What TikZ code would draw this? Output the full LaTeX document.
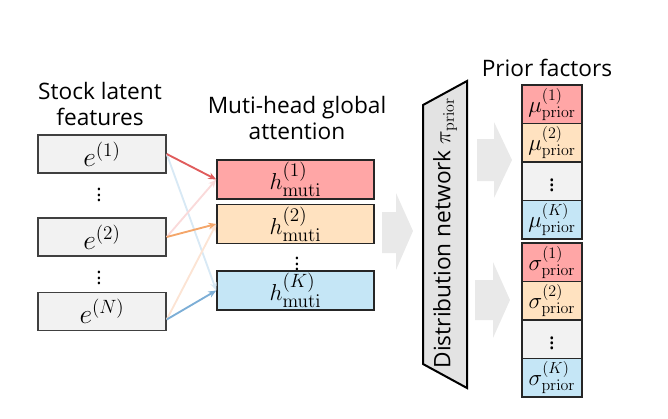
\documentclass[tikz,border=0pt]{standalone}
\usepackage[no-math]{fontspec}
\setmainfont{Open Sans}
\usetikzlibrary{positioning,arrows.meta}

\definecolor{headred}{RGB}{255,166,166}
\definecolor{headorange}{RGB}{255,226,192}
\definecolor{headblue}{RGB}{197,230,246}
\definecolor{boxgray}{RGB}{242,242,242}
\definecolor{linkred}{RGB}{224,92,92}
\definecolor{linkorange}{RGB}{244,166,106}
\definecolor{linkblue}{RGB}{124,174,214}
\definecolor{palered}{RGB}{250,218,218}
\definecolor{paleorange}{RGB}{252,228,212}
\definecolor{paleblue}{RGB}{216,233,245}

\begin{document}
\begin{tikzpicture}[x=0.75pt, y=-0.75pt, >={Stealth[length=6pt,width=5pt]},
    title/.style={align=center, font=\fontsize{17}{19}\selectfont},
    ebox/.style={draw=black!75, fill=boxgray, line width=1.1pt, minimum width=96pt, minimum height=28.5pt, inner sep=0pt, font=\fontsize{22}{24}\selectfont},
    hbox/.style={draw=black!85, line width=1.1pt, minimum width=117.75pt, minimum height=29.25pt, inner sep=0pt, font=\fontsize{19}{21}\selectfont},
    pbox/.style={draw=black!85, line width=1.1pt, minimum width=45pt, minimum height=28.9pt, inner sep=0pt, outer sep=0pt, font=\fontsize{17}{19}\selectfont},
    vdotsnode/.style={inner sep=0pt, font=\fontsize{15}{17}\selectfont},
    link/.style={->, line width=1.4pt},
    flow/.style={fill=gray!17}]

\useasboundingbox (0,0) rectangle (668,418);

% stock features
\node[title] (stocktitle) at (100,104) {Stock latent\\features};
\node[ebox] (e1) at (102,154) {$e^{(1)}$};
\node[ebox] (e2) at (102,237) {$e^{(2)}$};
\node[ebox] (eN) at (102,311.5) {$e^{(N)}$};
\node[vdotsnode] (dots1) at (99,191) {$\vdots$};
\node[vdotsnode] (dots2) at (99,274) {$\vdots$};

% attention heads
\node[title] (attntitle) at (297,118) {Muti-head global\\attention};
\node[hbox, fill=headred] (h1) at (295.5,179.5) {$h^{(1)}_{\mathrm{muti}}$};
\node[hbox, fill=headorange, below=3pt of h1] (h2) {$h^{(2)}_{\mathrm{muti}}$};
\node[vdotsnode] (dots3) at (297,260) {$\vdots$};
\node[hbox, fill=headblue] (hK) at (295.5,290.5) {$h^{(K)}_{\mathrm{muti}}$};

\draw[link, paleblue] (e1.east) -- (hK.west);
\draw[link, palered] (e2.east) -- (h1.west);
\draw[link, paleorange] ([yshift=-6pt]eN.east) -- (h2.west);
\draw[link, linkred] (e1.east) -- (h1.west);
\draw[link, linkorange] (e2.east) -- (h2.west);
\draw[link, linkblue] ([yshift=-6pt]eN.east) -- (hK.west);

% distribution network
\fill[flow] (382,212) -- (396,212) -- (396,193) -- (413,231) -- (396,270) -- (396,253) -- (382,253) -- cycle;
\draw[fill=gray!22, line width=1.5pt] (423,105) -- (467,81) -- (467,388) -- (423,364) -- cycle;
\node[title, rotate=90] (dist) at (445,233) {Distribution network $\pi_{\mathrm{prior}}$};
\fill[flow] (477,139) -- (494,139) -- (494,122) -- (512,160) -- (494,198) -- (494,181) -- (477,181) -- cycle;
\fill[flow] (475,280) -- (493,280) -- (493,262) -- (510,300) -- (493,338) -- (493,320) -- (475,320) -- cycle;

% prior factors
\node[title] (priortitle) at (547,68) {Prior factors};
\node[pbox, fill=headred] (mu1) at (552,104.25) {$\mu^{(1)}_{\mathrm{prior}}$};
\node[pbox, fill=headorange, below=0pt of mu1] (mu2) {$\mu^{(2)}_{\mathrm{prior}}$};
\node[pbox, fill=boxgray, below=0pt of mu2] (mudots) {$\vdots$};
\node[pbox, fill=headblue, below=0pt of mudots] (muK) {$\mu^{(K)}_{\mathrm{prior}}$};
\node[pbox, fill=headred] (sigma1) at (552,262.25) {$\sigma^{(1)}_{\mathrm{prior}}$};
\node[pbox, fill=headorange, below=0pt of sigma1] (sigma2) {$\sigma^{(2)}_{\mathrm{prior}}$};
\node[pbox, fill=boxgray, below=0pt of sigma2] (sigmadots) {$\vdots$};
\node[pbox, fill=headblue, below=0pt of sigmadots] (sigmaK) {$\sigma^{(K)}_{\mathrm{prior}}$};
\end{tikzpicture}
\end{document}
